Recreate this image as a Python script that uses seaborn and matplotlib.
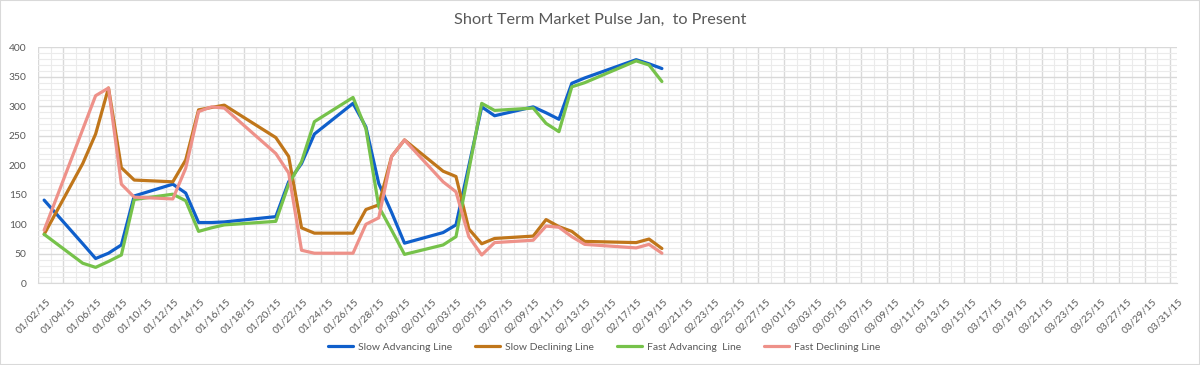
import pandas as pd
import numpy as np
import seaborn as sns
import matplotlib.pyplot as plt
import matplotlib.dates as mdates
import matplotlib.transforms as mtransforms
from matplotlib.ticker import FixedLocator, MultipleLocator
from matplotlib.patches import Rectangle

# trading days
dates = ['2015-01-02', '2015-01-05', '2015-01-06', '2015-01-07', '2015-01-08', '2015-01-09',
         '2015-01-12', '2015-01-13', '2015-01-14', '2015-01-15', '2015-01-16',
         '2015-01-20', '2015-01-21', '2015-01-22', '2015-01-23',
         '2015-01-26', '2015-01-27', '2015-01-28', '2015-01-29', '2015-01-30',
         '2015-02-02', '2015-02-03', '2015-02-04', '2015-02-05', '2015-02-06',
         '2015-02-09', '2015-02-10', '2015-02-11', '2015-02-12', '2015-02-13',
         '2015-02-17', '2015-02-18', '2015-02-19']

slow_adv = [141, 67, 42, 51, 65, 148, 168, 153, 103, 103, 104, 113, 172, 203, 253,
            305, 265, 169, 120, 68, 86, 99, 199, 299, 284, 299, 289, 278, 339, 348,
            379, 372, 364]
slow_dec = [83, 203, 253, 331, 196, 175, 172, 209, 294, 298, 302, 247, 215, 94, 85,
            85, 125, 133, 215, 243, 190, 181, 92, 67, 76, 80, 108, 96, 88, 71,
            69, 75, 59]
fast_adv = [83, 34, 27, 37, 48, 142, 151, 140, 88, 94, 99, 105, 168, 206, 274,
            315, 262, 130, 90, 49, 65, 79, 192, 305, 293, 297, 271, 257, 333, 340,
            377, 370, 342]
fast_dec = [90, 261, 318, 331, 168, 146, 143, 195, 291, 299, 297, 220, 187, 56, 51,
            51, 100, 111, 215, 243, 172, 155, 79, 48, 69, 73, 97, 95, 79, 66,
            60, 66, 51]

series_names = ['Slow Advancing Line', 'Slow Declining Line', 'Fast Advancing  Line', 'Fast Declining Line']
colors = ['#0F5FCB', '#C0761A', '#76C24A', '#EE9189']

title = 'Short Term Market Pulse Jan,  to Present'
axis_start = '2015-01-02'
axis_end = '2015-03-31'

# build long table for seaborn
wide = pd.DataFrame({'Date': pd.to_datetime(dates),
                     series_names[0]: slow_adv,
                     series_names[1]: slow_dec,
                     series_names[2]: fast_adv,
                     series_names[3]: fast_dec})
df = wide.melt(id_vars='Date', var_name='Series', value_name='Value')
# excel puts the points in the middle of each day slot
df['Date'] = df['Date'] + pd.Timedelta(hours=12)

sns.set_style('white')
plt.rcParams['font.family'] = ['Lato', 'DejaVu Sans']

fig = plt.figure(figsize=(12, 3.65), dpi=100)
ax = fig.add_axes([37.7 / 1200, 1 - 283.3 / 365, (1176.7 - 37.7) / 1200, (283.3 - 47.3) / 365])

sns.lineplot(data=df, x='Date', y='Value', hue='Series', hue_order=series_names,
             palette=colors, linewidth=2.3, ax=ax)
handles, labels = ax.get_legend_handles_labels()
ax.get_legend().remove()

# axes
start = pd.Timestamp(axis_start)
end = pd.Timestamp(axis_end)
ax.set_xlim(start, end + pd.Timedelta(hours=12))
ax.set_ylim(0, 400)
major_days = pd.date_range(start, end, freq='2D')
minor_days = pd.date_range(start, end + pd.Timedelta(days=1), freq='D')
ax.xaxis.set_major_locator(FixedLocator(mdates.date2num(major_days)))
ax.xaxis.set_minor_locator(FixedLocator(mdates.date2num(minor_days)))
ax.xaxis.set_major_formatter(mdates.DateFormatter('%m/%d/%y'))
ax.yaxis.set_major_locator(MultipleLocator(50))
ax.yaxis.set_minor_locator(MultipleLocator(10))

ax.set_axisbelow(True)
ax.grid(which='major', color='#D9D9D9', linewidth=1.0)
ax.grid(which='minor', color='#EBEBEB', linewidth=0.8)

ax.set_xlabel('')
ax.set_ylabel('')
for s in ['left', 'right', 'top']:
    ax.spines[s].set_visible(False)
ax.spines['bottom'].set_color('#D9D9D9')

ax.tick_params(axis='x', which='major', length=4, color='#D9D9D9', labelsize=7.4,
               labelcolor='#595959', pad=2)
ax.tick_params(axis='x', which='minor', length=0)
ax.tick_params(axis='y', which='both', length=0, labelsize=7.4, labelcolor='#595959', pad=8)
shift = mtransforms.ScaledTranslation(8 / 100, -5 / 100, fig.dpi_scale_trans)
for lab in ax.get_xticklabels():
    lab.set_rotation(45)
    lab.set_ha('right')
    lab.set_rotation_mode('anchor')
    lab.set_transform(lab.get_transform() + shift)

fig.text(0.5, 1 - 20 / 365, title, ha='center', va='center', fontsize=11.7, color='#595959')

fig.legend(handles, labels, loc='center', bbox_to_anchor=(604 / 1200, 1 - 347 / 365), ncol=4,
           frameon=False, fontsize=7.5, handlelength=2.4, handletextpad=0.5, columnspacing=2.2,
           labelcolor='#595959')

fig.patches.append(Rectangle((0, 0), 1, 1, transform=fig.transFigure, fill=False,
                             edgecolor='#D9D9D9', linewidth=1.5))

fig.savefig('out.png', dpi=100)
